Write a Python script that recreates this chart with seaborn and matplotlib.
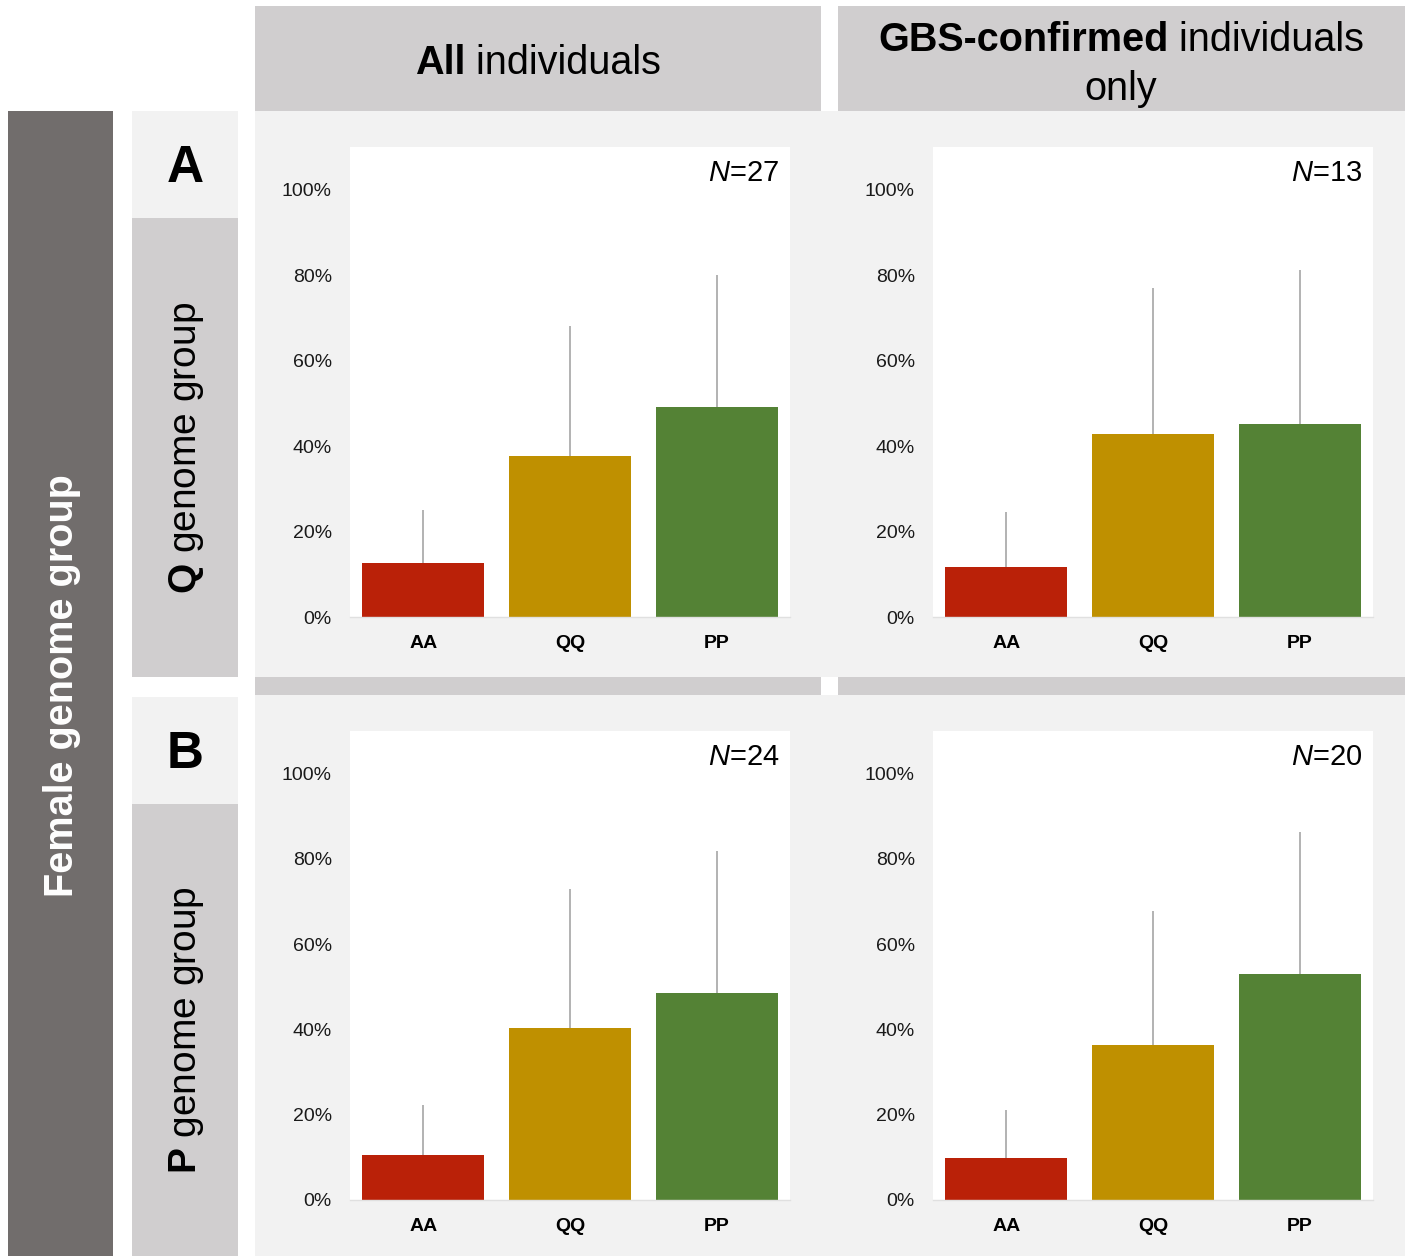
import numpy as np
import pandas as pd
import seaborn as sns
import matplotlib.pyplot as plt
from matplotlib.patches import Rectangle

# genotype categories and colours
genotypes = ["AA", "QQ", "PP"]
bar_colors = ["#BA2108", "#BF9000", "#548235"]

# bar heights (proportions) and upper error bar ends
q_all = [0.126, 0.376, 0.491]
q_all_upper = [0.250, 0.682, 0.801]
q_gbs = [0.117, 0.428, 0.451]
q_gbs_upper = [0.245, 0.771, 0.811]
p_all = [0.105, 0.404, 0.486]
p_all_upper = [0.222, 0.729, 0.818]
p_gbs = [0.098, 0.364, 0.530]
p_gbs_upper = [0.210, 0.678, 0.864]

sample_sizes = [27, 13, 24, 20]
# (bold part, regular part) of each header line
header_lines = [[("All", " individuals")],
                [("GBS-confirmed", " individuals"), ("", "only")]]
row_letters = ["A", "B"]
row_labels = ["$\\mathbf{Q}$ genome group", "$\\mathbf{P}$ genome group"]
side_label = "Female genome group"
yticks = [0, 0.2, 0.4, 0.6, 0.8, 1.0]
ytick_labels = ["0%", "20%", "40%", "60%", "80%", "100%"]

sns.set_theme(style="white")
plt.rcParams["font.family"] = ["Liberation Sans", "DejaVu Sans"]
plt.rcParams["text.color"] = "black"
plt.rcParams["mathtext.fontset"] = "custom"
plt.rcParams["mathtext.rm"] = "Liberation Sans"
plt.rcParams["mathtext.it"] = "Liberation Sans:italic"
plt.rcParams["mathtext.bf"] = "Liberation Sans:bold"

W, H = 1407, 1256
fig = plt.figure(figsize=(W / 100, H / 100), dpi=100)
fig.patch.set_facecolor("white")
renderer = fig.canvas.get_renderer()


def box(x0, y0, x1, y1, color):
    # rectangle given in pixel coords from top-left
    fig.add_artist(Rectangle((x0 / W, 1 - y1 / H), (x1 - x0) / W, (y1 - y0) / H,
                             transform=fig.transFigure, facecolor=color,
                             edgecolor="none", zorder=0))


def fig_xy(x, y):
    return x / W, 1 - y / H


def mixed_line(xc, yc, bold, regular, size):
    # bold + regular text centred as one line at pixel (xc, yc)
    tb = fig.text(0, 0, bold, fontsize=size, fontweight="bold", va="center")
    tr = fig.text(0, 0, regular, fontsize=size, va="center")
    wb = tb.get_window_extent(renderer).width if bold else 0
    wr = tr.get_window_extent(renderer).width
    x0 = xc - (wb + wr) / 2
    tb.set_position(fig_xy(x0, yc))
    tr.set_position(fig_xy(x0 + wb, yc))


light = "#F2F2F2"
mid = "#D0CECF"
dark = "#716D6C"

# header boxes
box(255, 6, 821, 111, mid)
box(838, 6, 1405, 111, mid)
# panel backgrounds and separator strip
box(255, 111, 1405, 677, light)
box(255, 677, 821, 695, mid)
box(838, 677, 1405, 695, mid)
box(255, 695, 1405, 1256, light)
# left side boxes
box(8, 111, 113, 1256, dark)
box(132, 111, 238, 218, light)
box(132, 218, 238, 677, mid)
box(132, 697, 238, 804, light)
box(132, 804, 238, 1256, mid)

header_pos = [(538, [63]), (1121, [40, 89])]
for (xc, ys), lines in zip(header_pos, header_lines):
    for yc, (bold, regular) in zip(ys, lines):
        mixed_line(xc, yc, bold, regular, 28.5)

fig.text(*fig_xy(62, 686), side_label, ha="center", va="center", fontsize=28.5,
         rotation=90, color="white", fontweight="bold")
for i, (letter, lab) in enumerate(zip(row_letters, row_labels)):
    yc = [169, 754][i]
    ylab = [448, 1030][i]
    fig.text(*fig_xy(185, yc), letter, ha="center", va="center", fontsize=37,
             fontweight="bold")
    fig.text(*fig_xy(187, ylab), lab, ha="center", va="center", fontsize=28,
             rotation=90)

panels = [(q_all, q_all_upper), (q_gbs, q_gbs_upper),
          (p_all, p_all_upper), (p_gbs, p_gbs_upper)]
lefts = [350, 933]
tops = [147, 731]
bottoms = [617, 1200]

for k, (vals, upper) in enumerate(panels):
    r, c = divmod(k, 2)
    x0, x1 = lefts[c], lefts[c] + 440
    y0, y1 = tops[r], bottoms[r]
    ax = fig.add_axes([x0 / W, 1 - y1 / H, (x1 - x0) / W, (y1 - y0) / H])
    df = pd.DataFrame({"genotype": genotypes, "value": vals})
    sns.barplot(data=df, x="genotype", y="value", hue="genotype",
                palette=bar_colors, width=0.833, legend=False, ax=ax,
                saturation=1, edgecolor="none", zorder=2)
    err_low = np.zeros(len(vals))
    err_high = np.array(upper) - np.array(vals)
    ax.errorbar(x=range(len(vals)), y=vals, yerr=[err_low, err_high], fmt="none",
                ecolor="#A5A5A5", elinewidth=1.2, capsize=0, zorder=1)
    ax.set_facecolor("white")
    ax.set_xlim(-0.5, 2.5)
    ax.set_ylim(0, 1.1)
    ax.set_yticks(yticks)
    ax.set_yticklabels(ytick_labels, fontsize=14)
    ax.set_xlabel("")
    ax.set_ylabel("")
    for t in ax.get_xticklabels():
        t.set_fontweight("bold")
        t.set_fontsize(14)
    ax.tick_params(axis="y", length=0, pad=13, colors="#1A1A1A")
    ax.tick_params(axis="x", length=0, pad=13, colors="black")
    for s in ["top", "left", "right"]:
        ax.spines[s].set_visible(False)
    ax.spines["bottom"].set_color("#E0E0E0")
    ax.spines["bottom"].set_linewidth(1)
    ax.text(0.975, 0.975, f"$N$={sample_sizes[k]}", transform=ax.transAxes,
            ha="right", va="top", fontsize=21)

fig.savefig("out.png", dpi=100, facecolor="white")
